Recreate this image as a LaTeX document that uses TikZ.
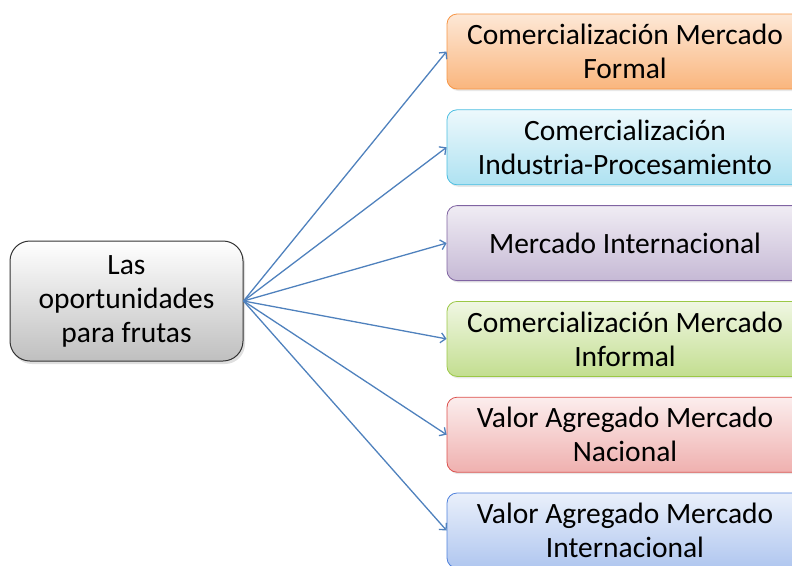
\documentclass[tikz,border=0pt]{standalone}
\usepackage{fontspec}
\setmainfont{Carlito}
\usepackage{xcolor}
\definecolor{flecha}{RGB}{79,129,189}
\definecolor{naranja}{RGB}{247,150,70}
\definecolor{celeste}{RGB}{75,190,225}
\definecolor{morado}{RGB}{128,100,162}
\definecolor{verde}{RGB}{155,200,70}
\definecolor{rojo}{RGB}{220,80,77}
\definecolor{azul}{RGB}{79,129,220}
\usepackage{tikz}
\usetikzlibrary{arrows.meta}
\usetikzlibrary{positioning}
\usetikzlibrary{shadows}

\tikzset{
  caja/.style={rounded corners=10pt, minimum width=356pt, minimum height=75pt,
    align=center, line width=0.8pt, inner sep=2pt,
    drop shadow={shadow xshift=1.5pt, shadow yshift=-2pt, opacity=0.18}},
  enlace/.style={draw=flecha, line width=1.3pt, -{Straight Barb[length=5pt,width=10pt]}},
}

\begin{document}
\begin{tikzpicture}[x=1pt, y=-1pt, node distance=20pt, font=\fontsize{29.5}{34}\selectfont]

      \useasboundingbox (0,0) rectangle (792,565);
      \clip (0,0) rectangle (792,565);

      \node [draw=black!80, rounded corners=20pt, minimum width=233pt, minimum height=120pt,
        align=center, line width=1pt, top color=white, bottom color=black!25,
        drop shadow={shadow xshift=2pt, shadow yshift=-3pt, opacity=0.25}]
        (origen) at (126.5,301) {Las\\oportunidades\\para frutas};

      \node [caja, draw=naranja, top color=naranja!22, bottom color=naranja!70] (formal) at (625,51.5)
        {Comercialización Mercado\\Formal};
      \node [caja, draw=celeste, top color=celeste!10, bottom color=celeste!45, below=of formal] (industria)
        {Comercialización\\Industria-Procesamiento};
      \node [caja, draw=morado, top color=morado!12, bottom color=morado!45, below=of industria] (internacional)
        {Mercado Internacional};
      \node [caja, draw=verde, top color=verde!15, bottom color=verde!60, below=of internacional] (informal)
        {Comercialización Mercado\\Informal};
      \node [caja, draw=rojo, top color=rojo!10, bottom color=rojo!45, below=of informal] (nacional)
        {Valor Agregado Mercado\\Nacional};
      \node [caja, draw=azul, top color=azul!12, bottom color=azul!45, below=of nacional] (valorint)
        {Valor Agregado Mercado\\Internacional};

      \foreach \destino in {formal, industria, internacional, informal, nacional, valorint}
        \draw [enlace] (origen.east) -- (\destino.west);

    \end{tikzpicture}
\end{document}
